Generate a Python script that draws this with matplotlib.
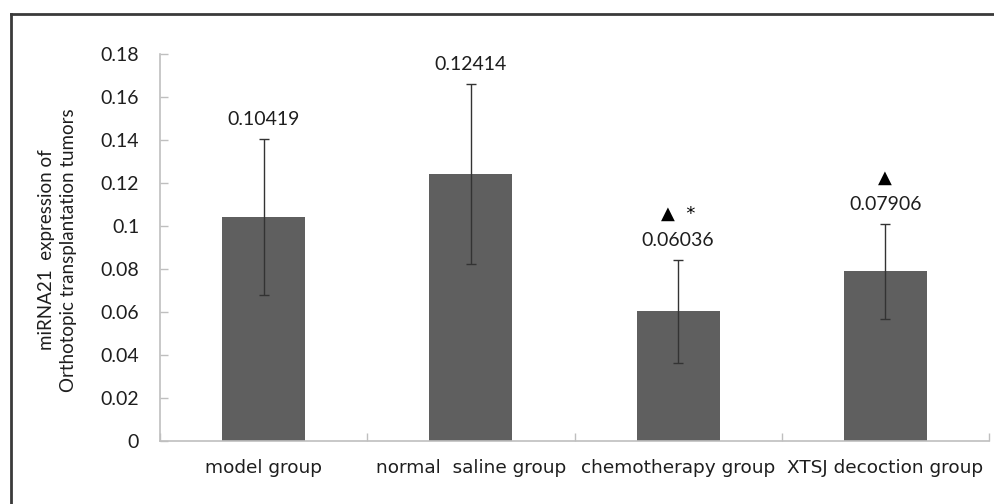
import matplotlib
matplotlib.use("Agg")
import matplotlib.pyplot as plt
from matplotlib.lines import Line2D
import numpy as np

# values
groups = ["model group", "normal  saline group", "chemotherapy group", "XTSJ decoction group"]
means = [0.10419, 0.12414, 0.06036, 0.07906]
sds = [0.0362, 0.0418, 0.0240, 0.0221]
labels = ["0.10419", "0.12414", "0.06036", "0.07906"]
marks = ["", "", "\u25b2  *", "\u25b2"]
yticks = [0, 0.02, 0.04, 0.06, 0.08, 0.1, 0.12, 0.14, 0.16, 0.18]
ytick_labels = ["0", "0.02", "0.04", "0.06", "0.08", "0.1", "0.12", "0.14", "0.16", "0.18"]

plt.rcParams['font.family'] = ['Lato', 'DejaVu Sans']
txt = '#1e1e1e'
spine = '#bfbfbf'

fig = plt.figure(figsize=(9.95, 5.04), dpi=100)
ax = fig.add_axes([160 / 995, 1 - 441 / 504, (989 - 160) / 995, (441 - 54) / 504])

x = np.arange(len(groups))
ax.bar(x, means, width=0.4, color='#5f5f5f', zorder=2)
ax.errorbar(x, means, yerr=sds, fmt='none', ecolor='#333333', elinewidth=1.0,
            capsize=3.5, capthick=1.0, zorder=3)

for xi, m, s, lab, mk in zip(x, means, sds, labels, marks):
    ax.annotate(lab, (xi, m + s), xytext=(0, 14), textcoords='offset points',
                ha='center', va='center', fontsize=14, color=txt)
    if mk:
        ax.annotate(mk, (xi, m + s), xytext=(0, 33), textcoords='offset points',
                    ha='center', va='center', fontsize=13, color='black',
                    family=['DejaVu Sans'])

ax.set_xlim(-0.5, len(groups) - 0.5)
ax.set_ylim(0, 0.18)
ax.set_yticks(yticks)
ax.set_yticklabels(ytick_labels)
ax.set_xticks(x)
ax.set_xticklabels(groups, family=['DejaVu Sans'], fontsize=13.3)
ax.set_xticks(np.arange(len(groups) + 1) - 0.5, minor=True)

ax.tick_params(axis='y', direction='in', length=6, width=1, color=spine,
               pad=15, labelsize=14, labelcolor=txt)
ax.tick_params(axis='x', which='major', length=0, pad=13, labelcolor=txt)
ax.tick_params(axis='x', which='minor', direction='in', length=6, width=1, color=spine)

for side in ['top', 'right']:
    ax.spines[side].set_visible(False)
for side in ['left', 'bottom']:
    ax.spines[side].set_color(spine)
    ax.spines[side].set_linewidth(1.2)

fig.text(47 / 995, 1 - 250 / 504, "miRNA21  expression of", rotation=90,
         ha='center', va='center', fontsize=13.5, color=txt)
fig.text(69 / 995, 1 - 250 / 504, "Orthotopic transplantation tumors", rotation=90,
         ha='center', va='center', fontsize=13.5, color=txt)

# outer chart frame (only top and left edges are visible in the crop)
fig.add_artist(Line2D([11 / 995, 1], [1 - 14 / 504, 1 - 14 / 504], color='#3a3a3a', lw=2))
fig.add_artist(Line2D([11 / 995, 11 / 995], [0, 1 - 14 / 504], color='#3a3a3a', lw=2))

fig.savefig("out.png", dpi=100)
